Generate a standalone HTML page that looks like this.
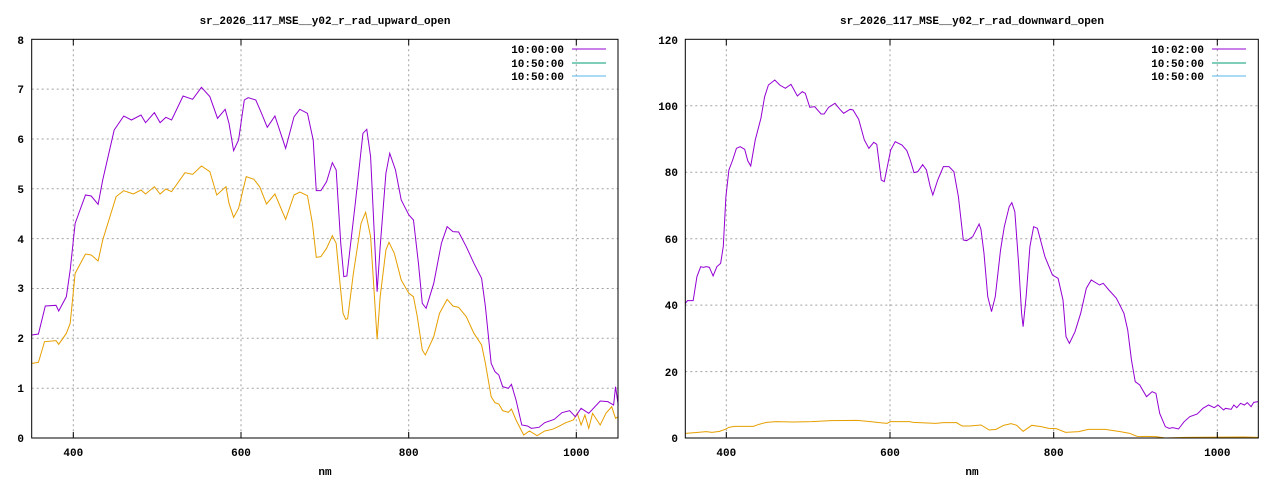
<!DOCTYPE html>
<html><head><meta charset="utf-8"><style>
html,body{margin:0;padding:0;background:#fff;}
svg text{font-family:"Liberation Mono","DejaVu Sans Mono",monospace;font-size:11px;font-weight:bold;fill:#000;}
</style></head><body>
<svg width="1280" height="480" viewBox="0 0 1280 480" xmlns="http://www.w3.org/2000/svg">
<rect width="1280" height="480" fill="#fff"/>
<g stroke="#a0a0a0" stroke-width="1" stroke-dasharray="2,3" fill="none">
<path d="M73.3 39.3V438M241 39.3V438M408.7 39.3V438M576.3 39.3V438"/>
<path d="M31.7 388.2H618M31.7 338.3H618M31.7 288.5H618M31.7 238.6H618M31.7 188.8H618M31.7 139H618M31.7 89.1H618"/>
<path d="M726.3 39.3V438M890 39.3V438M1053.7 39.3V438M1217.3 39.3V438"/>
<path d="M685.3 371.6H1258.3M685.3 305.1H1258.3M685.3 238.7H1258.3M685.3 172.2H1258.3M685.3 105.8H1258.3"/>
</g>
<g transform="translate(30,30) scale(0.38270,0.33333)" fill="none" stroke-width="1" vector-effect="non-scaling-stroke">
<polyline vector-effect="non-scaling-stroke" stroke="#e69f00" points="5,1000 22,997 38,935 68,932 75,943 95,910 105,880 118,730 145,672 160,675 178,693 190,630 225,500 245,482 270,492 290,480 302,492 325,470 340,492 355,477 370,485 405,428 425,433 448,408 470,425 488,495 512,470 520,520 532,562 545,535 565,440 585,448 600,470 618,522 640,492 668,568 690,495 705,486 725,497 738,580 748,682 760,680 775,655 790,617 800,640 810,760 818,850 825,868 830,866 845,730 865,580 877,547 890,620 900,800 907,928 915,800 930,660 938,637 952,670 970,750 990,790 1002,800 1012,860 1025,960 1033,975 1055,920 1070,850 1090,808 1105,828 1120,832 1140,860 1160,910 1180,945 1190,1000 1205,1100 1215,1118 1225,1122 1235,1142 1250,1147 1258,1137 1270,1170 1290,1215 1305,1203 1325,1217 1345,1203 1365,1198 1380,1190 1400,1178 1420,1170 1430,1150 1440,1185 1450,1155 1460,1195 1470,1150 1490,1185 1505,1150 1520,1130 1530,1165 1537,1160"/>
<polyline vector-effect="non-scaling-stroke" stroke="#9400d3" points="5,915 22,912 40,828 68,826 75,843 95,800 105,720 118,580 145,495 160,498 178,523 190,450 220,300 245,258 265,270 290,255 302,278 325,248 340,278 355,262 370,270 400,198 425,208 448,172 470,200 490,265 510,238 520,280 532,362 545,330 560,210 570,203 590,210 605,250 620,292 640,258 668,355 690,260 705,238 725,250 740,330 748,482 760,482 775,455 790,398 800,420 812,640 820,740 828,738 850,520 870,310 880,298 890,380 900,620 907,785 915,650 930,430 940,370 955,420 970,510 990,555 1002,570 1015,700 1025,820 1035,835 1055,760 1075,640 1090,590 1105,605 1120,606 1140,650 1160,700 1180,745 1190,830 1205,1000 1215,1025 1225,1035 1235,1070 1250,1075 1258,1063 1270,1110 1285,1185 1300,1188 1310,1195 1330,1192 1345,1178 1370,1168 1390,1148 1410,1142 1425,1160 1440,1135 1460,1150 1490,1113 1510,1115 1525,1125 1530,1070 1537,1125"/>
</g>
<g transform="translate(680,30) scale(0.37622,0.33333)" fill="none">
<polyline vector-effect="non-scaling-stroke" stroke="#e69f00" stroke-width="1" points="14,1210 40,1208 70,1205 85,1207 105,1204 120,1198 130,1192 145,1189 195,1189 210,1183 230,1177 255,1175 300,1176 350,1175 400,1172 470,1171 500,1174 530,1178 550,1180 560,1175 610,1175 620,1177 680,1180 700,1178 735,1178 750,1188 770,1188 800,1185 822,1200 840,1198 860,1186 880,1181 895,1186 912,1204 935,1186 960,1190 980,1195 1000,1196 1025,1207 1060,1205 1085,1198 1130,1198 1170,1205 1195,1210 1215,1219 1265,1220 1290,1224 1345,1222 1500,1221 1537,1222"/>
<polyline vector-effect="non-scaling-stroke" stroke="#9400d3" stroke-width="1" points="14,820 20,812 35,812 45,740 55,710 62,712 70,710 78,712 88,738 98,710 108,700 115,650 122,500 130,420 140,390 150,355 160,350 172,358 180,392 188,408 200,330 215,265 225,200 235,165 252,150 265,165 280,175 295,163 312,198 325,185 333,190 345,232 358,230 375,252 383,252 395,232 412,220 425,238 435,250 452,238 460,240 475,268 490,330 502,355 515,337 523,343 535,450 543,455 560,360 572,335 590,345 603,362 612,390 622,428 632,425 645,404 655,420 665,470 672,495 685,450 700,410 715,410 728,425 740,500 753,630 762,632 778,620 795,582 800,598 808,670 818,800 828,845 838,800 852,660 862,590 875,530 882,518 890,545 900,700 908,850 912,890 920,800 930,650 940,590 950,595 970,680 990,735 1005,745 1018,810 1026,920 1035,940 1050,905 1065,850 1080,775 1093,750 1115,765 1125,760 1140,780 1160,805 1180,850 1190,900 1200,990 1210,1055 1222,1065 1240,1100 1255,1085 1265,1090 1275,1150 1290,1190 1300,1195 1310,1193 1325,1197 1340,1175 1355,1160 1375,1152 1390,1135 1405,1125 1420,1133 1430,1125 1445,1140 1450,1135 1465,1138 1472,1125 1480,1133 1490,1120 1500,1125 1508,1118 1518,1130 1525,1117 1537,1115"/>
</g>
<!-- frames and ticks -->
<g stroke="#000" stroke-width="1" fill="none">
<rect x="31.7" y="39.3" width="586.3" height="398.7"/>
<rect x="685.3" y="39.3" width="573" height="398.7"/>
<path d="M73.3 438v-6M241 438v-6M408.7 438v-6M576.3 438v-6M73.3 39.3v6M241 39.3v6M408.7 39.3v6M576.3 39.3v6"/>
<path d="M726.3 438v-6M890 438v-6M1053.7 438v-6M1217.3 438v-6M726.3 39.3v6M890 39.3v6M1053.7 39.3v6M1217.3 39.3v6"/>
</g>
<!-- legends -->
<g stroke-width="1">
<line x1="572" y1="49" x2="606" y2="49" stroke="#9400d3"/>
<line x1="572" y1="63" x2="606" y2="63" stroke="#009e73"/>
<line x1="572" y1="76" x2="606" y2="76" stroke="#56b4e9"/>
<line x1="1212" y1="49" x2="1246" y2="49" stroke="#9400d3"/>
<line x1="1212" y1="63" x2="1246" y2="63" stroke="#009e73"/>
<line x1="1212" y1="76" x2="1246" y2="76" stroke="#56b4e9"/>
</g>
<g text-anchor="end">
<text x="564" y="53">10:00:00</text><text x="564" y="67">10:50:00</text><text x="564" y="80">10:50:00</text>
<text x="1204" y="53">10:02:00</text><text x="1204" y="67">10:50:00</text><text x="1204" y="80">10:50:00</text>
<text x="24" y="442">0</text><text x="24" y="392">1</text><text x="24" y="342">2</text><text x="24" y="292">3</text><text x="24" y="243">4</text><text x="24" y="193">5</text><text x="24" y="143">6</text><text x="24" y="93">7</text><text x="24" y="44">8</text>
<text x="678" y="442">0</text><text x="678" y="376">20</text><text x="678" y="309">40</text><text x="678" y="243">60</text><text x="678" y="176">80</text><text x="678" y="110">100</text><text x="678" y="44">120</text>
</g>
<g text-anchor="middle">
<text x="73.3" y="456">400</text><text x="241" y="456">600</text><text x="408.7" y="456">800</text><text x="576.3" y="456">1000</text>
<text x="726.3" y="456">400</text><text x="890" y="456">600</text><text x="1053.7" y="456">800</text><text x="1217.3" y="456">1000</text>
<text x="325" y="475">nm</text><text x="972" y="475">nm</text>
<text x="325" y="24">sr_2026_117_MSE__y02_r_rad_upward_open</text>
<text x="972" y="24">sr_2026_117_MSE__y02_r_rad_downward_open</text>
</g>
</svg>
</body></html>
